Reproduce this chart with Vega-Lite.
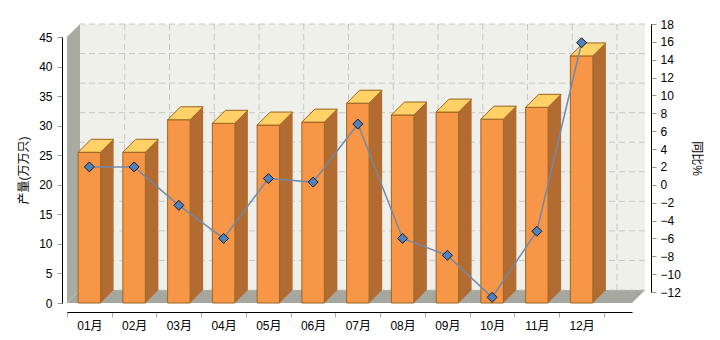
{
  "$schema": "https://vega.github.io/schema/vega-lite/v6.json",
  "autosize": "none",
  "width": 565,
  "height": 268,
  "padding": {"left": 80, "top": 24, "right": 75, "bottom": 48},
  "background": "#ffffff",
  "config": {
    "view": {"fill": "#F0F0EA", "stroke": null},
    "font": "Liberation Sans",
    "axis": {
      "labelFont": "Liberation Sans, Noto Sans CJK SC",
      "titleFont": "Liberation Sans, Noto Sans CJK SC",
      "labelFontSize": 12,
      "titleFontSize": 12,
      "titleFontWeight": "normal",
      "labelColor": "#000000",
      "titleColor": "#000000",
      "domainColor": "#000000",
      "tickColor": "#999999",
      "labelOverlap": false,
      "grid": false
    },
    "axisLeft": {"offset": 18, "tickSize": 5, "labelPadding": 5, "titlePadding": 8, "tickCount": 20},
    "axisRight": {"offset": 6, "tickSize": 5, "labelPadding": 4, "titlePadding": 9, "tickCount": 20},
    "axisBottom": {"offset": 20, "tickSize": 5, "labelPadding": 3, "labelAngle": 0, "tickColor": "#AAAAAA"}
  },
  "datasets": {
    "monthly": [
      {"month": "01月", "value": 25.5, "change": 2.0},
      {"month": "02月", "value": 25.5, "change": 2.0},
      {"month": "03月", "value": 31.0, "change": -2.3},
      {"month": "04月", "value": 30.4, "change": -6.0},
      {"month": "05月", "value": 30.1, "change": 0.7},
      {"month": "06月", "value": 30.6, "change": 0.3},
      {"month": "07月", "value": 33.8, "change": 6.8},
      {"month": "08月", "value": 31.8, "change": -6.0},
      {"month": "09月", "value": 32.3, "change": -7.9},
      {"month": "10月", "value": 31.1, "change": -12.6},
      {"month": "11月", "value": 33.1, "change": -5.2},
      {"month": "12月", "value": 41.8, "change": 15.9}
    ],
    "gridlines": [
      {"g": 0}, {"g": 5}, {"g": 10}, {"g": 15}, {"g": 20},
      {"g": 25}, {"g": 30}, {"g": 35}, {"g": 40}, {"g": 45}
    ]
  },
  "data": {"name": "monthly"},
  "layer": [
    {
      "layer": [
        {
          "transform": [{"filter": "datum.month == '01月'"}],
          "mark": {"type": "point", "shape": "M0,0 L565,0 L578,-13 L13,-13 Z", "size": 4, "filled": true, "fill": "#A6A8A0", "opacity": 1, "strokeWidth": 0},
          "encoding": {
            "x": {
              "field": "month", "type": "nominal", "sort": null, "bandPosition": 0, "title": null,
              "scale": {"domain": ["01月","02月","03月","04月","05月","06月","07月","08月","09月","10月","11月","12月"], "range": [-13, 552], "paddingInner": 0, "paddingOuter": 0.313, "align": 0},
              "axis": {"orient": "bottom", "tickBand": "extent"}
            },
            "y": {
              "datum": 0, "type": "quantitative", "title": "产量(万万只)",
              "scale": {"domain": [0, 45], "range": [279, 13], "nice": false, "zero": false},
              "axis": {"orient": "left", "values": [0, 5, 10, 15, 20, 25, 30, 35, 40, 45]}
            }
          }
        },
        {
          "transform": [{"filter": "datum.month == '01月'"}],
          "mark": {"type": "point", "shape": "M0,0 L0,-266 L13,-279 L13,-13 Z", "size": 4, "filled": true, "fill": "#A9ABA3", "opacity": 1, "strokeWidth": 0},
          "encoding": {
            "x": {"field": "month", "type": "nominal", "sort": null, "bandPosition": 0, "title": null, "axis": {"orient": "bottom", "tickBand": "extent"}},
            "y": {"datum": 0, "type": "quantitative", "title": "产量(万万只)", "axis": {"orient": "left", "values": [0, 5, 10, 15, 20, 25, 30, 35, 40, 45]}}
          }
        },
        {
          "data": {"name": "gridlines"},
          "mark": {"type": "rule", "color": "#C6C6C6", "strokeWidth": 1, "strokeDash": [6, 4], "yOffset": -13},
          "encoding": {
            "y": {"field": "g", "type": "quantitative", "title": "产量(万万只)", "axis": {"orient": "left", "values": [0, 5, 10, 15, 20, 25, 30, 35, 40, 45]}}
          }
        },
        {
          "mark": {"type": "rule", "color": "#C6C6C6", "strokeWidth": 1, "strokeDash": [6, 4], "xOffset": 13},
          "encoding": {
            "x": {"field": "month", "type": "nominal", "sort": null, "bandPosition": 1, "title": null, "axis": {"orient": "bottom", "tickBand": "extent"}}
          }
        },
        {
          "mark": {"type": "bar", "fill": "#B26B30", "size": 13, "xOffset": 17.75, "yOffset": -13, "y2Offset": -13},
          "encoding": {
            "x": {"field": "month", "type": "nominal", "sort": null, "title": null, "axis": {"orient": "bottom", "tickBand": "extent"}},
            "y": {"field": "value", "type": "quantitative", "title": "产量(万万只)", "axis": {"orient": "left", "values": [0, 5, 10, 15, 20, 25, 30, 35, 40, 45]}},
            "y2": {"datum": 0}
          }
        },
        {
          "mark": {"type": "point", "shape": "M11.25,-13 L24.25,-13 L11.25,0 Z", "size": 4, "filled": true, "fill": "#B26B30", "opacity": 1, "strokeWidth": 0},
          "encoding": {
            "x": {"field": "month", "type": "nominal", "sort": null, "title": null, "axis": {"orient": "bottom", "tickBand": "extent"}},
            "y": {"datum": 0, "type": "quantitative", "title": "产量(万万只)", "axis": {"orient": "left", "values": [0, 5, 10, 15, 20, 25, 30, 35, 40, 45]}}
          }
        },
        {
          "mark": {"type": "bar", "fill": "#F79646", "stroke": "#9A6424", "strokeWidth": 1, "size": 22.5},
          "encoding": {
            "x": {"field": "month", "type": "nominal", "sort": null, "title": null, "axis": {"orient": "bottom", "tickBand": "extent"}},
            "y": {"field": "value", "type": "quantitative", "title": "产量(万万只)", "axis": {"orient": "left", "values": [0, 5, 10, 15, 20, 25, 30, 35, 40, 45]}},
            "y2": {"datum": 0}
          }
        },
        {
          "mark": {"type": "point", "shape": "M-11.25,0 L11.25,0 L24.25,-13 L1.75,-13 Z", "size": 4, "filled": true, "fill": "#FFD166", "stroke": "#9A6424", "strokeWidth": 1, "opacity": 1},
          "encoding": {
            "x": {"field": "month", "type": "nominal", "sort": null, "title": null, "axis": {"orient": "bottom", "tickBand": "extent"}},
            "y": {"field": "value", "type": "quantitative", "title": "产量(万万只)", "axis": {"orient": "left", "values": [0, 5, 10, 15, 20, 25, 30, 35, 40, 45]}}
          }
        }
      ]
    },
    {
      "layer": [
        {
          "mark": {"type": "line", "color": "#7389A9", "strokeWidth": 1.5},
          "encoding": {
            "x": {"field": "month", "type": "nominal", "sort": null, "title": null, "axis": {"orient": "bottom", "tickBand": "extent"}},
            "y": {
              "field": "change", "type": "quantitative", "title": "同比%",
              "scale": {"domain": [-12, 18], "nice": false, "zero": false},
              "axis": {"orient": "right", "values": [-12, -10, -8, -6, -4, -2, 0, 2, 4, 6, 8, 10, 12, 14, 16, 18]}
            }
          }
        },
        {
          "mark": {"type": "point", "shape": "diamond", "filled": true, "fill": "#4F81BD", "stroke": "#1A1A1A", "strokeWidth": 1, "size": 100, "opacity": 1},
          "encoding": {
            "x": {"field": "month", "type": "nominal", "sort": null, "title": null, "axis": {"orient": "bottom", "tickBand": "extent"}},
            "y": {"field": "change", "type": "quantitative", "title": "同比%", "axis": {"orient": "right", "values": [-12, -10, -8, -6, -4, -2, 0, 2, 4, 6, 8, 10, 12, 14, 16, 18]}}
          }
        }
      ]
    }
  ],
  "resolve": {"scale": {"y": "independent"}}
}
